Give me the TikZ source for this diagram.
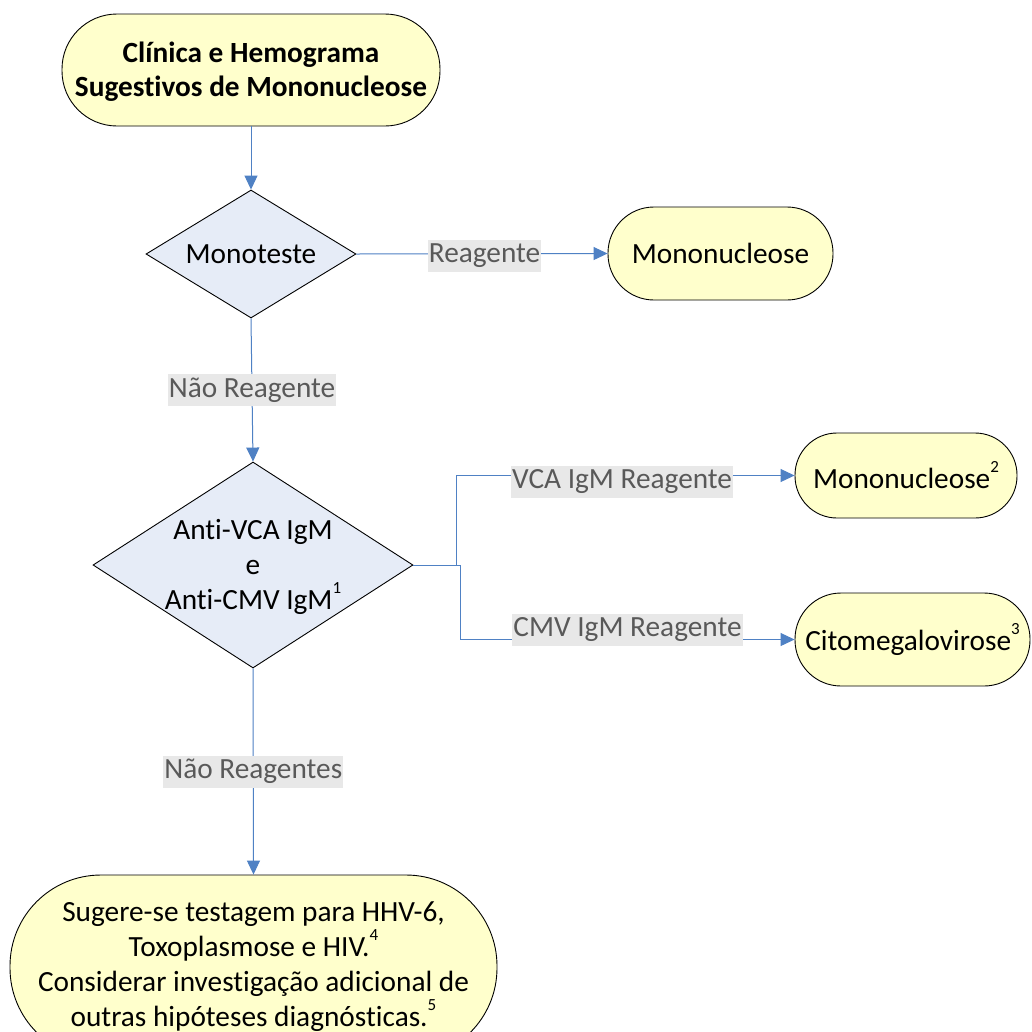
\documentclass[tikz,border=0pt]{standalone}
\usepackage{fontspec}
\setmainfont{Carlito}[Ligatures=NoCommon, RawFeature={-liga;-calt;-clig;-dlig}]
\usetikzlibrary{shapes.geometric,arrows.meta}
\definecolor{termfill}{HTML}{FFFFCC}
\definecolor{decfill}{HTML}{E6ECF7}
\definecolor{linkblue}{HTML}{4F81C4}
\definecolor{lblbg}{HTML}{E8E8E8}
\definecolor{lbltxt}{HTML}{595959}
\newcommand{\supr}[1]{\raisebox{0.55em}{\fontsize{17}{17}\selectfont #1}}
\tikzset{
  base/.style={font=\fontsize{29.3}{35}\selectfont, align=center, inner sep=0pt},
  term/.style={base, draw=black, line width=0.9pt, fill=termfill, rectangle, rounded corners=#1},
  dec/.style={draw=black, line width=0.9pt, fill=decfill, diamond, inner sep=0pt},
  txt/.style={base},
  link/.style={draw=linkblue, line width=1pt, -{Triangle[length=14pt,width=13pt]}},
  lbl/.style={font=\fontsize{29.3}{34}\selectfont, text=lbltxt, fill=lblbg, inner xsep=1pt, inner ysep=2pt, text height=21pt, text depth=7pt}
}
\begin{document}
\begin{tikzpicture}[x=1pt,y=-1pt]
\clip (0,0) rectangle (1032,1031);
\fill[white] (0,0) rectangle (1032,1031);

\node[term=55, minimum width=378, minimum height=112] (top) at (251,70) {};
\node[txt, font=\fontsize{29.3}{34}\selectfont\bfseries] (topt) at (251,72)
  {Clínica e Hemograma\\Sugestivos de Mononucleose};

\node[dec, minimum width=210, minimum height=128] (mono) at (251,254) {};
\node[txt] (monot) at (mono.center) {Monoteste};

\node[term=46, minimum width=225, minimum height=93] (mn1) at (720.5,253.5) {Mononucleose};

\node[dec, minimum width=320, minimum height=206] (d2) at (253,565) {};
\node[txt] (d2t) at (253,567) {Anti-VCA IgM\\e\\Anti-CMV IgM\supr{1}};

\node[term=42, minimum width=222, minimum height=85] (mn2) at (906,475.5) {Mononucleose\supr{2}};
\node[term=46, minimum width=235, minimum height=93] (cmv) at (912.5,639.5) {Citomegalovirose\supr{3}};

\node[term=91, minimum width=487, minimum height=184] (fim) at (253.5,967)
  {Sugere-se testagem para HHV-6,\\Toxoplasmose e HIV.\supr{4}\\Considerar investigação adicional de\\outras hipóteses diagnósticas.\supr{5}};

\draw[link] (top.south) -- (mono.north);
\draw[link] (mono.east) -- node[lbl, pos=0.51, yshift=-2pt] {Reagente} (mn1.west);
\draw[link] (mono.south) -- node[lbl] {Não Reagente} (d2.north);
\draw[link] (d2.east) -- ++(43,0) |- node[lbl, pos=0.745, yshift=-6pt] {VCA IgM Reagente} (mn2.west);
\draw[link] (d2.east) -- ++(47,0) |- node[lbl, pos=0.75, yshift=10pt] {CMV IgM Reagente} (cmv.west);
\draw[link] (d2.south) -- node[lbl] {Não Reagentes} (fim.north);
\end{tikzpicture}
\end{document}
